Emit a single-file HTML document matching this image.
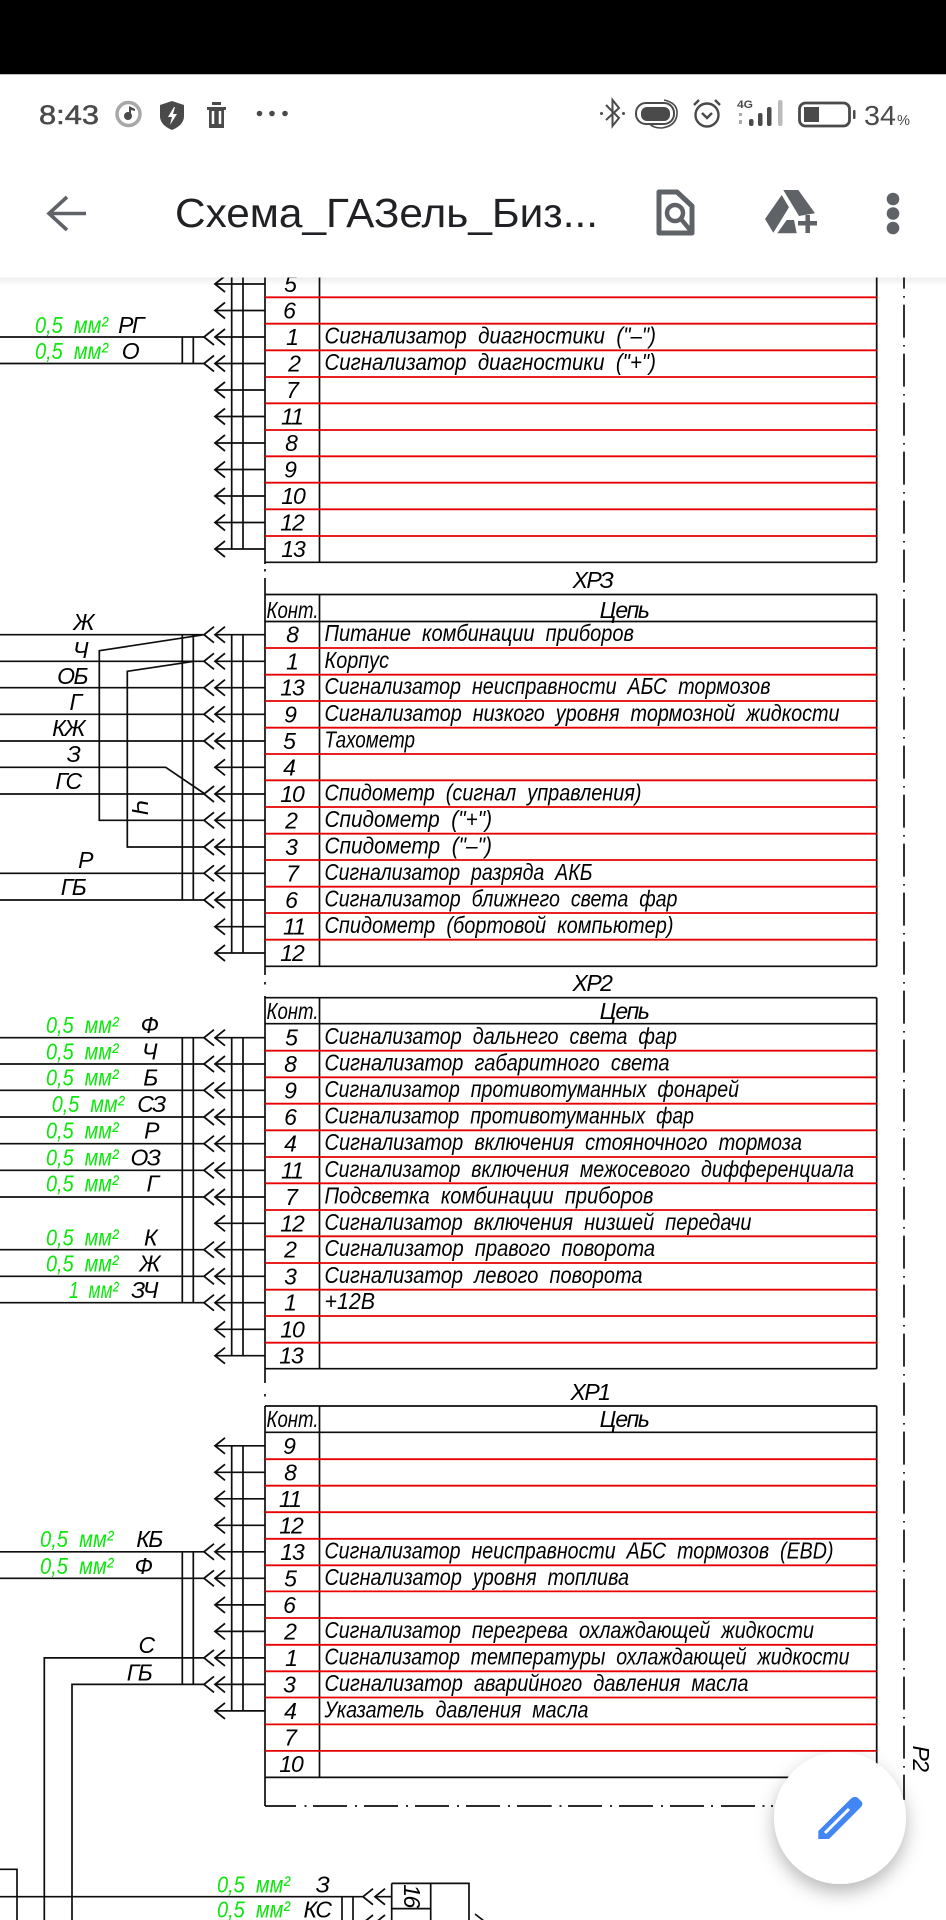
<!DOCTYPE html>
<html lang="ru"><head><meta charset="utf-8"><title>Схема</title>
<style>
html,body{margin:0;padding:0;background:#fff;width:946px;height:1920px;overflow:hidden}
svg{display:block;position:absolute;left:0;top:0}
text{font-family:"Liberation Sans","DejaVu Sans",sans-serif;white-space:pre}
.t{font-size:23px;font-style:italic;fill:#000}
.d{font-size:23px;font-style:italic;fill:#000;text-anchor:middle;letter-spacing:-1px}
.c{font-size:23px;font-style:italic;fill:#000;text-anchor:middle;letter-spacing:-1.5px}
.g{font-size:23px;font-style:italic;fill:#10e610}
.w{fill:none;stroke:#111;stroke-width:1.7}
.r{fill:none;stroke:#e80000;stroke-width:1.8}
.i{fill:#5f6368}
</style></head><body>
<svg width="946" height="1920" viewBox="0 0 946 1920" xmlns="http://www.w3.org/2000/svg">
<defs>
<path id="a" d="M10 -8L0 0L10 8" fill="none" stroke="#111" stroke-width="1.8"/>
<filter id="b" x="0" y="0" width="100%" height="100%"><feGaussianBlur stdDeviation="0.35"/></filter>
<filter id="s" x="-30%" y="-30%" width="160%" height="170%"><feDropShadow dx="0" dy="8" stdDeviation="9" flood-color="#000" flood-opacity="0.28"/></filter>
<linearGradient id="sh" x1="0" y1="0" x2="0" y2="1"><stop offset="0" stop-color="#000" stop-opacity="0.07"/><stop offset="1" stop-color="#000" stop-opacity="0"/></linearGradient>
</defs>
<rect width="946" height="1920" fill="#fff"/>
<g filter="url(#b)">
<!-- table frames -->
<path class="w" d="M265 270V562.3M319.5 270V562.3M876.7 270V562.3M265 562.3H876.7
M265 594.5V966.3M319.5 594.5V966.3M876.7 594.5V966.3M265 594.5H876.7M265 621.5H876.7M265 966.3H876.7
M265 996V1368.7M319.5 997.7V1368.7M876.7 997.7V1368.7M265 997.7H876.7M265 1023.7H876.7M265 1368.7H876.7
M265 1368.7V1383M265 1406V1806M319.5 1406V1777.4M876.7 1406V1777.4M265 1406H876.7M265 1432.3H876.7M265 1777.4H876.7
M265 562.3V564M265 578V594.5M265 966.3V975"/>
<path class="w" d="M265 569V571.5M265 982V984.5M265 1394V1396.5" stroke-width="2"/>
<path class="w" d="M904 247V1800" stroke-dasharray="1.6 7 33 7.4"/>
<path class="w" d="M265 1806H296M304.5 1806H306.5M313 1806H347M355 1806H357M364 1806H398M406 1806H408M415 1806H449M457 1806H459M466 1806H500M508 1806H510M517 1806H551.7M559.5 1806H561.5M568 1806H602M610 1806H612M619 1806H653M661 1806H663M670 1806H704M711 1806H713M721 1806H755M762.5 1806H764.5M771 1806H773"/>
<!-- red lines -->
<path class="r" d="M265 297.3H876.7M265 323.7H876.7M265 350.3H876.7M265 377H876.7M265 403.3H876.7M265 430H876.7M265 456.3H876.7M265 482.7H876.7M265 509.3H876.7M265 536H876.7
M265 648H876.7M265 674.7H876.7M265 701H876.7M265 727.7H876.7M265 754H876.7M265 780.3H876.7M265 807H876.7M265 833.7H876.7M265 860H876.7M265 886.7H876.7M265 913H876.7M265 939.7H876.7
M265 1050.7H876.7M265 1077.3H876.7M265 1103.7H876.7M265 1130.3H876.7M265 1157H876.7M265 1183.3H876.7M265 1210H876.7M265 1236.3H876.7M265 1263H876.7M265 1289.7H876.7M265 1316H876.7M265 1342.7H876.7
M265 1459.2H876.7M265 1485.7H876.7M265 1512.2H876.7M265 1538.8H876.7M265 1565.3H876.7M265 1591.4H876.7M265 1618H876.7M265 1644.8H876.7M265 1671.3H876.7M265 1697.5H876.7M265 1724.4H876.7M265 1750.9H876.7"/>
<!-- stubs + buses -->
<path class="w" d="M215 284H265M215 310.5H265M215 337H265M215 363.5H265M215 390H265M215 416.5H265M215 443H265M215 469.5H265M215 496H265M215 522.5H265M215 549H265M231.7 270V549M243 270V549
M215 634.7H265M215 661.3H265M215 687.7H265M215 714.3H265M215 741H265M215 767.3H265M215 794H265M215 820.3H265M215 847H265M215 873.3H265M215 900H265M215 926.7H265M215 953H265M231.7 634.7V953M243 634.7V953
M215 1037.7H265M215 1064H265M215 1090.3H265M215 1117H265M215 1143.7H265M215 1170.3H265M215 1197H265M215 1223.3H265M215 1249.7H265M215 1276.3H265M215 1302.7H265M215 1329.3H265M215 1355.7H265M231.7 1037.7V1355.7M243 1037.7V1355.7
M215 1445.8H265M215 1472.3H265M215 1498.8H265M215 1525.3H265M215 1551.8H265M215 1578.3H265M215 1604.9H265M215 1631.4H265M215 1657.9H265M215 1684.4H265M215 1710.9H265M231.7 1445.8V1710.9M243 1445.8V1710.9"/>
<!-- left wires -->
<path class="w" d="M0 337H204M0 363.5H204M182.3 337V363.5M193.3 337V363.5
M0 634.7H204M0 661.3H204M0 687.7H204M0 714.3H204M0 741H204M0 767.3H165.7L205 794M0 794H204M0 873.3H204M0 900H204
M204 634.7L99.3 650.7V820.3H204M194 661.3L127.3 671.3V847H204M182.3 634.7V900M193.3 634.7V900
M0 1037.7H204M0 1064H204M0 1090.3H204M0 1117H204M0 1143.7H204M0 1170.3H204M0 1197H204M0 1249.7H204M0 1276.3H204M0 1302.7H204M182.3 1037.7V1302.7M193.3 1037.7V1302.7
M0 1551.8H204M0 1578.3H204M44.3 1920V1657.9H204M72 1920V1684.4H204M182.3 1551.8V1684.4M193.3 1551.8V1684.4
M0 1869.3H17V1920M0 1896.7H363M342 1896.7V1920M353 1896.7V1920M375 1896.7H391.7M391.7 1883.4H469V1920M391.7 1883.4V1920M430.7 1883.4V1920M391.7 1908.6H430.7M475 1914L484 1921"/>
<!-- arrows -->
<g id="arrows">
<use href="#a" x="215" y="284"/><use href="#a" x="215" y="310.5"/><use href="#a" x="215" y="337"/><use href="#a" x="204" y="337"/><use href="#a" x="215" y="363.5"/><use href="#a" x="204" y="363.5"/><use href="#a" x="215" y="390"/><use href="#a" x="215" y="416.5"/><use href="#a" x="215" y="443"/><use href="#a" x="215" y="469.5"/><use href="#a" x="215" y="496"/><use href="#a" x="215" y="522.5"/><use href="#a" x="215" y="549"/>
<use href="#a" x="215" y="634.7"/><use href="#a" x="204" y="634.7"/><use href="#a" x="215" y="661.3"/><use href="#a" x="204" y="661.3"/><use href="#a" x="215" y="687.7"/><use href="#a" x="204" y="687.7"/><use href="#a" x="215" y="714.3"/><use href="#a" x="204" y="714.3"/><use href="#a" x="215" y="741"/><use href="#a" x="204" y="741"/><use href="#a" x="215" y="767.3"/><use href="#a" x="215" y="794"/><use href="#a" x="204" y="794"/><use href="#a" x="215" y="820.3"/><use href="#a" x="204" y="820.3"/><use href="#a" x="215" y="847"/><use href="#a" x="204" y="847"/><use href="#a" x="215" y="873.3"/><use href="#a" x="204" y="873.3"/><use href="#a" x="215" y="900"/><use href="#a" x="204" y="900"/><use href="#a" x="215" y="926.7"/><use href="#a" x="215" y="953"/>
<use href="#a" x="215" y="1037.7"/><use href="#a" x="204" y="1037.7"/><use href="#a" x="215" y="1064"/><use href="#a" x="204" y="1064"/><use href="#a" x="215" y="1090.3"/><use href="#a" x="204" y="1090.3"/><use href="#a" x="215" y="1117"/><use href="#a" x="204" y="1117"/><use href="#a" x="215" y="1143.7"/><use href="#a" x="204" y="1143.7"/><use href="#a" x="215" y="1170.3"/><use href="#a" x="204" y="1170.3"/><use href="#a" x="215" y="1197"/><use href="#a" x="204" y="1197"/><use href="#a" x="215" y="1223.3"/><use href="#a" x="215" y="1249.7"/><use href="#a" x="204" y="1249.7"/><use href="#a" x="215" y="1276.3"/><use href="#a" x="204" y="1276.3"/><use href="#a" x="215" y="1302.7"/><use href="#a" x="204" y="1302.7"/><use href="#a" x="215" y="1329.3"/><use href="#a" x="215" y="1355.7"/>
<use href="#a" x="215" y="1445.8"/><use href="#a" x="215" y="1472.3"/><use href="#a" x="215" y="1498.8"/><use href="#a" x="215" y="1525.3"/><use href="#a" x="215" y="1551.8"/><use href="#a" x="204" y="1551.8"/><use href="#a" x="215" y="1578.3"/><use href="#a" x="204" y="1578.3"/><use href="#a" x="215" y="1604.9"/><use href="#a" x="215" y="1631.4"/><use href="#a" x="215" y="1657.9"/><use href="#a" x="204" y="1657.9"/><use href="#a" x="215" y="1684.4"/><use href="#a" x="204" y="1684.4"/><use href="#a" x="215" y="1710.9"/>
<use href="#a" x="363" y="1896.7"/><use href="#a" x="375" y="1896.7"/><use href="#a" x="363" y="1923"/><use href="#a" x="375" y="1923"/>
</g>
<!-- digits -->
<g>
<text class="d" x="290" y="292">5</text><text class="d" x="289" y="318.5">6</text><text class="d" x="292" y="345">1</text><text class="d" x="294" y="371.5">2</text><text class="d" x="292" y="398">7</text><text class="d" x="292" y="424.5">11</text><text class="d" x="291" y="451">8</text><text class="d" x="290" y="477.5">9</text><text class="d" x="293" y="504">10</text><text class="d" x="292" y="530.5">12</text><text class="d" x="293" y="557">13</text>
<text class="d" x="292" y="642.7">8</text><text class="d" x="292" y="669.3">1</text><text class="d" x="292" y="695.7">13</text><text class="d" x="290" y="722.3">9</text><text class="d" x="289" y="749">5</text><text class="d" x="289" y="775.3">4</text><text class="d" x="292" y="802">10</text><text class="d" x="291" y="828.3">2</text><text class="d" x="291" y="855">3</text><text class="d" x="292" y="881.3">7</text><text class="d" x="291" y="908">6</text><text class="d" x="294" y="934.7">11</text><text class="d" x="292" y="961">12</text>
<text class="d" x="291" y="1045.7">5</text><text class="d" x="290" y="1072">8</text><text class="d" x="290" y="1098.3">9</text><text class="d" x="290" y="1125">6</text><text class="d" x="290" y="1151.7">4</text><text class="d" x="292" y="1178.3">11</text><text class="d" x="291" y="1205">7</text><text class="d" x="292" y="1231.3">12</text><text class="d" x="290" y="1257.7">2</text><text class="d" x="290" y="1284.3">3</text><text class="d" x="290" y="1310.7">1</text><text class="d" x="292" y="1337.3">10</text><text class="d" x="291" y="1363.7">13</text>
<text class="d" x="289" y="1453.8">9</text><text class="d" x="290" y="1480.3">8</text><text class="d" x="290" y="1506.8">11</text><text class="d" x="291" y="1533.3">12</text><text class="d" x="292" y="1559.8">13</text><text class="d" x="290" y="1586.3">5</text><text class="d" x="289" y="1612.9">6</text><text class="d" x="290" y="1639.4">2</text><text class="d" x="291" y="1665.9">1</text><text class="d" x="289" y="1692.4">3</text><text class="d" x="290" y="1718.9">4</text><text class="d" x="290" y="1745.4">7</text><text class="d" x="291" y="1771.9">10</text>
</g>
<!-- headers -->
<text class="c" x="592.5" y="588">ХРЗ</text><text class="c" x="624" y="618">Цепь</text>
<text class="t" x="266.5" y="618" textLength="52" lengthAdjust="spacingAndGlyphs">Конт.</text>
<text class="c" x="592" y="991">ХР2</text><text class="c" x="624" y="1019">Цепь</text>
<text class="t" x="266.5" y="1019" textLength="52" lengthAdjust="spacingAndGlyphs">Конт.</text>
<text class="c" x="590" y="1400">ХР1</text><text class="c" x="624" y="1427">Цепь</text>
<text class="t" x="266.5" y="1427" textLength="52" lengthAdjust="spacingAndGlyphs">Конт.</text>
<!-- rows text -->
<text class="t" x="324.5" y="343.5" textLength="331.5" lengthAdjust="spacingAndGlyphs">Сигнализатор  диагностики  ("–")</text>
<text class="t" x="324.5" y="370" textLength="331.5" lengthAdjust="spacingAndGlyphs">Сигнализатор  диагностики  ("+")</text>

<text class="t" x="324.5" y="641.2" textLength="309.5" lengthAdjust="spacingAndGlyphs">Питание  комбинации  приборов</text>
<text class="t" x="324.5" y="667.8" textLength="64.5" lengthAdjust="spacingAndGlyphs">Корпус</text>
<text class="t" x="324.5" y="694.2" textLength="446" lengthAdjust="spacingAndGlyphs">Сигнализатор  неисправности  АБС  тормозов</text>
<text class="t" x="324.5" y="720.8" textLength="515" lengthAdjust="spacingAndGlyphs">Сигнализатор  низкого  уровня  тормозной  жидкости</text>
<text class="t" x="324.5" y="747.5" textLength="90.5" lengthAdjust="spacingAndGlyphs">Тахометр</text>
<text class="t" x="324.5" y="800.5" textLength="317" lengthAdjust="spacingAndGlyphs">Спидометр  (сигнал  управления)</text>
<text class="t" x="324.5" y="826.8" textLength="167.5" lengthAdjust="spacingAndGlyphs">Спидометр  ("+")</text>
<text class="t" x="324.5" y="853.5" textLength="167.5" lengthAdjust="spacingAndGlyphs">Спидометр  ("–")</text>
<text class="t" x="324.5" y="879.8" textLength="268" lengthAdjust="spacingAndGlyphs">Сигнализатор  разряда  АКБ</text>
<text class="t" x="324.5" y="906.5" textLength="353" lengthAdjust="spacingAndGlyphs">Сигнализатор  ближнего  света  фар</text>
<text class="t" x="324.5" y="933.2" textLength="349" lengthAdjust="spacingAndGlyphs">Спидометр  (бортовой  компьютер)</text>

<text class="t" x="324.5" y="1044.2" textLength="352.5" lengthAdjust="spacingAndGlyphs">Сигнализатор  дальнего  света  фар</text>
<text class="t" x="324.5" y="1070.5" textLength="345" lengthAdjust="spacingAndGlyphs">Сигнализатор  габаритного  света</text>
<text class="t" x="324.5" y="1096.8" textLength="414.5" lengthAdjust="spacingAndGlyphs">Сигнализатор  противотуманных  фонарей</text>
<text class="t" x="324.5" y="1123.5" textLength="369.5" lengthAdjust="spacingAndGlyphs">Сигнализатор  противотуманных  фар</text>
<text class="t" x="324.5" y="1150.2" textLength="477.5" lengthAdjust="spacingAndGlyphs">Сигнализатор  включения  стояночного  тормоза</text>
<text class="t" x="324.5" y="1176.8" textLength="529.5" lengthAdjust="spacingAndGlyphs">Сигнализатор  включения  межосевого  дифференциала</text>
<text class="t" x="324.5" y="1203.5" textLength="329" lengthAdjust="spacingAndGlyphs">Подсветка  комбинации  приборов</text>
<text class="t" x="324.5" y="1229.8" textLength="427" lengthAdjust="spacingAndGlyphs">Сигнализатор  включения  низшей  передачи</text>
<text class="t" x="324.5" y="1256.2" textLength="330.5" lengthAdjust="spacingAndGlyphs">Сигнализатор  правого  поворота</text>
<text class="t" x="324.5" y="1282.8" textLength="318" lengthAdjust="spacingAndGlyphs">Сигнализатор  левого  поворота</text>
<text class="t" x="324.5" y="1309.2" textLength="50.5" lengthAdjust="spacingAndGlyphs">+12В</text>

<text class="t" x="324.5" y="1558.3" textLength="509" lengthAdjust="spacingAndGlyphs">Сигнализатор  неисправности  АБС  тормозов  (ЕВD)</text>
<text class="t" x="324.5" y="1584.8" textLength="304.5" lengthAdjust="spacingAndGlyphs">Сигнализатор  уровня  топлива</text>
<text class="t" x="324.5" y="1637.9" textLength="489.5" lengthAdjust="spacingAndGlyphs">Сигнализатор  перегрева  охлаждающей  жидкости</text>
<text class="t" x="324.5" y="1664.4" textLength="525" lengthAdjust="spacingAndGlyphs">Сигнализатор  температуры  охлаждающей  жидкости</text>
<text class="t" x="324.5" y="1690.9" textLength="424" lengthAdjust="spacingAndGlyphs">Сигнализатор  аварийного  давления  масла</text>
<text class="t" x="324.5" y="1717.4" textLength="264" lengthAdjust="spacingAndGlyphs">Указатель  давления  масла</text>
<!-- green -->
<text class="g" x="35" y="333" textLength="73" lengthAdjust="spacingAndGlyphs">0,5  мм²</text>
<text class="g" x="35" y="359" textLength="73" lengthAdjust="spacingAndGlyphs">0,5  мм²</text>
<text class="g" x="46" y="1033" textLength="72.5" lengthAdjust="spacingAndGlyphs">0,5  мм²</text>
<text class="g" x="46" y="1059.7" textLength="72.5" lengthAdjust="spacingAndGlyphs">0,5  мм²</text>
<text class="g" x="46" y="1085.7" textLength="72.5" lengthAdjust="spacingAndGlyphs">0,5  мм²</text>
<text class="g" x="51.7" y="1112" textLength="72.5" lengthAdjust="spacingAndGlyphs">0,5  мм²</text>
<text class="g" x="46" y="1138.7" textLength="72.5" lengthAdjust="spacingAndGlyphs">0,5  мм²</text>
<text class="g" x="46" y="1165.3" textLength="72.5" lengthAdjust="spacingAndGlyphs">0,5  мм²</text>
<text class="g" x="46" y="1191.7" textLength="72.5" lengthAdjust="spacingAndGlyphs">0,5  мм²</text>
<text class="g" x="46" y="1245.3" textLength="72.5" lengthAdjust="spacingAndGlyphs">0,5  мм²</text>
<text class="g" x="46" y="1271.7" textLength="72.5" lengthAdjust="spacingAndGlyphs">0,5  мм²</text>
<text class="g" x="69" y="1298" textLength="49.5" lengthAdjust="spacingAndGlyphs">1  мм²</text>
<text class="g" x="40" y="1547" textLength="73.5" lengthAdjust="spacingAndGlyphs">0,5  мм²</text>
<text class="g" x="40" y="1574" textLength="73.5" lengthAdjust="spacingAndGlyphs">0,5  мм²</text>
<text class="g" x="217" y="1892.5" textLength="73" lengthAdjust="spacingAndGlyphs">0,5  мм²</text>
<text class="g" x="217" y="1917.5" textLength="73" lengthAdjust="spacingAndGlyphs">0,5  мм²</text>
<!-- wire letters -->
<text class="c" x="130.5" y="333">РГ</text><text class="c" x="130" y="359">О</text>
<text class="c" x="83" y="630">Ж</text><text class="c" x="80" y="658">Ч</text><text class="c" x="72" y="684">ОБ</text><text class="c" x="75" y="710">Г</text><text class="c" x="68" y="736">КЖ</text><text class="c" x="73" y="762">З</text><text class="c" x="68" y="789">ГС</text><text class="c" x="85" y="868">Р</text><text class="c" x="73" y="895">ГБ</text>
<text class="c" x="0" y="0" transform="translate(132,806) rotate(90)">Ч</text>
<text class="c" x="149" y="1033">Ф</text><text class="c" x="149" y="1059.7">Ч</text><text class="c" x="150" y="1085.7">Б</text><text class="c" x="151" y="1112">СЗ</text><text class="c" x="151" y="1138.7">Р</text><text class="c" x="145" y="1165.3">ОЗ</text><text class="c" x="152" y="1191.7">Г</text><text class="c" x="150" y="1245.3">К</text><text class="c" x="149" y="1271.7">Ж</text><text class="c" x="144" y="1298">ЗЧ</text>
<text class="c" x="149" y="1547">КБ</text><text class="c" x="143" y="1574">Ф</text><text class="c" x="146" y="1653">С</text><text class="c" x="139" y="1680.5">ГБ</text>
<text class="c" x="322" y="1892.5">З</text><text class="c" x="317" y="1917.5">КС</text>
<text class="c" x="0" y="0" transform="translate(404,1895.5) rotate(90)">16</text>
<text class="c" x="0" y="0" transform="translate(913,1758) rotate(90)">Р2</text>
</g>
<!-- FAB -->
<circle cx="840" cy="1818" r="66" fill="#fff" filter="url(#s)"/>
<path d="M818.3 1839L818.3 1831L851 1798.5Q855 1795.5 858 1798L861.5 1801.5Q863.5 1804 861 1807L829 1839Z" fill="#4285f4"/>
<path d="M825 1833L849 1809" stroke="#fff" stroke-width="3" fill="none"/>
<!-- top chrome -->
<rect x="0" y="277.5" width="946" height="8" fill="url(#sh)"/>
<rect x="0" y="0" width="946" height="277.5" fill="#fff"/>
<rect x="0" y="0" width="946" height="74" fill="#000"/>
<rect x="0" y="74" width="946" height="1" fill="#bbb"/>
<g fill="#4a4a4a">
<text x="39" y="124" font-size="27" textLength="60" lengthAdjust="spacingAndGlyphs" stroke="#4a4a4a" stroke-width="0.5">8:43</text>
<circle cx="128.5" cy="114" r="11.5" fill="none" stroke="#a8a8a8" stroke-width="3.5"/><circle cx="128" cy="116" r="4" /><path d="M129 116V106l6 3v2l-4-1v6z"/>
<path d="M172 101l12 4v11q0 9-12 14q-12-5-12-14v-11z"/><path d="M174 107l-6 10h4l-2 8 7-11h-4l2-7z" fill="#fff"/>
<path d="M207 107h19v3h-2v18h-15v-18h-2zM212 102h9v3h-9z"/><path d="M213 111v13M220 111v13" stroke="#fff" stroke-width="2.5"/>
<circle cx="259.5" cy="113.5" r="2.8"/><circle cx="272" cy="113.5" r="2.8"/><circle cx="285" cy="113.5" r="2.8"/>
<path d="M606 105L619 118L612.5 126V100L619 108L606 120" fill="none" stroke="#4a4a4a" stroke-width="2"/><circle cx="601.5" cy="113.5" r="1.5"/><circle cx="623.5" cy="113.5" r="1.5"/>
<rect x="636" y="103" width="38" height="21" rx="10" fill="none" stroke="#4a4a4a" stroke-width="2"/><rect x="641" y="107" width="29" height="14" rx="6"/><path d="M664 100q14 3 13 14q-1 12-15 14M650 124q3 4 12 4" fill="none" stroke="#4a4a4a" stroke-width="1.6"/>
<circle cx="707" cy="115" r="11.5" fill="none" stroke="#4a4a4a" stroke-width="2.4"/><path d="M702 113l5 5 5-5M694 105l5-5M720 105l-5-5" fill="none" stroke="#4a4a4a" stroke-width="2.4"/>
<text x="737" y="108" font-size="11" font-weight="bold" textLength="16" lengthAdjust="spacingAndGlyphs">4G</text>
<rect x="739" y="113" width="3" height="3" fill="#aaa"/><rect x="739" y="120" width="3" height="4" fill="#aaa"/><rect x="749" y="119" width="4.5" height="7" rx="2"/><rect x="758" y="113" width="4.5" height="13" rx="2"/><rect x="767" y="107" width="4.5" height="19" rx="2"/><rect x="778" y="100" width="4.5" height="26" rx="2" fill="#bbb"/>
<rect x="799.5" y="103" width="50" height="23" rx="6" fill="none" stroke="#4a4a4a" stroke-width="2.8"/><rect x="804" y="107" width="15" height="15"/><rect x="853" y="110" width="2.5" height="9" rx="1"/>
<text x="864" y="125" font-size="28" textLength="32" lengthAdjust="spacingAndGlyphs">34</text><text x="897" y="125" font-size="15" textLength="13" lengthAdjust="spacingAndGlyphs">%</text>
</g>
<path d="M67 197L49 213.5L67 230M49 213.5H86" fill="none" stroke="#5f6368" stroke-width="3.6"/>
<text x="175" y="227" font-size="41" fill="#202124" textLength="423" lengthAdjust="spacingAndGlyphs">Схема_ГАЗель_Биз...</text>
<path d="M659 192H677L692 206V233H659Z" fill="none" stroke="#5f6368" stroke-width="5" stroke-linejoin="round"/>
<circle cx="675" cy="213" r="8" fill="none" stroke="#5f6368" stroke-width="4.5"/><path d="M681 219L690 230" stroke="#5f6368" stroke-width="4.5"/>
<path class="i" d="M783.3 190H798.3L815 213.3L799 216Z"/><path class="i" d="M765 219L781.7 195L789 207.3L773.3 232.7Z"/><path class="i" d="M786.7 220H794L796.7 233.3H777.3Z"/>
<path d="M798 223.3H817M807.7 215V233" stroke="#5f6368" stroke-width="4.5" fill="none"/>
<circle cx="893" cy="199" r="6.3" class="i"/><circle cx="893" cy="213.5" r="6.3" class="i"/><circle cx="893" cy="228" r="6.3" class="i"/>
</svg>
</body></html>
